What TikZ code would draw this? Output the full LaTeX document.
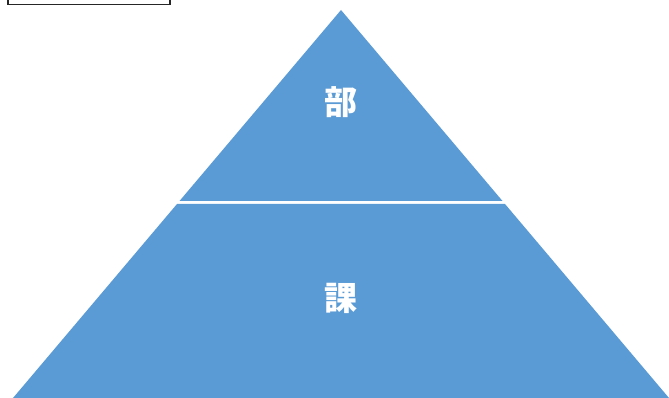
\documentclass[tikz,border=0pt]{standalone}
\usepackage{fontspec}
\newfontfamily\cjk{Noto Sans CJK JP}
\usetikzlibrary{positioning}
\definecolor{tierblue}{HTML}{5B9BD5}

\begin{document}
\begin{tikzpicture}[x=1pt,y=-1pt,line width=0.2mm]
  \tikzset{tier/.style={fill=tierblue,draw=none},
           tierlabel/.style={text=white,font=\cjk\bfseries\fontsize{33}{33}\selectfont}}
  \useasboundingbox (0,0) rectangle (669,398);

  \coordinate (apex) at (341,10);
  \coordinate (TL) at (179.5,201);
  \coordinate (TR) at (502.5,201);
  \coordinate (BL) at (177,204);
  \coordinate (BR) at (505,204);
  \coordinate (FL) at (13,398);
  \coordinate (FR) at (669,398);

  \fill[tier] (apex) -- (TR) -- (TL) -- cycle;
  \fill[tier] (BL) -- (BR) -- (FR) -- (FL) -- cycle;

  \node[tierlabel] (bu) at (341,102) {部};
  \node[tierlabel] (ka) at (341,298) {課};

  % box at top left
  \draw[black!85,line width=1.4pt] (8,-6) rectangle (170,4.5);
\end{tikzpicture}
\end{document}
